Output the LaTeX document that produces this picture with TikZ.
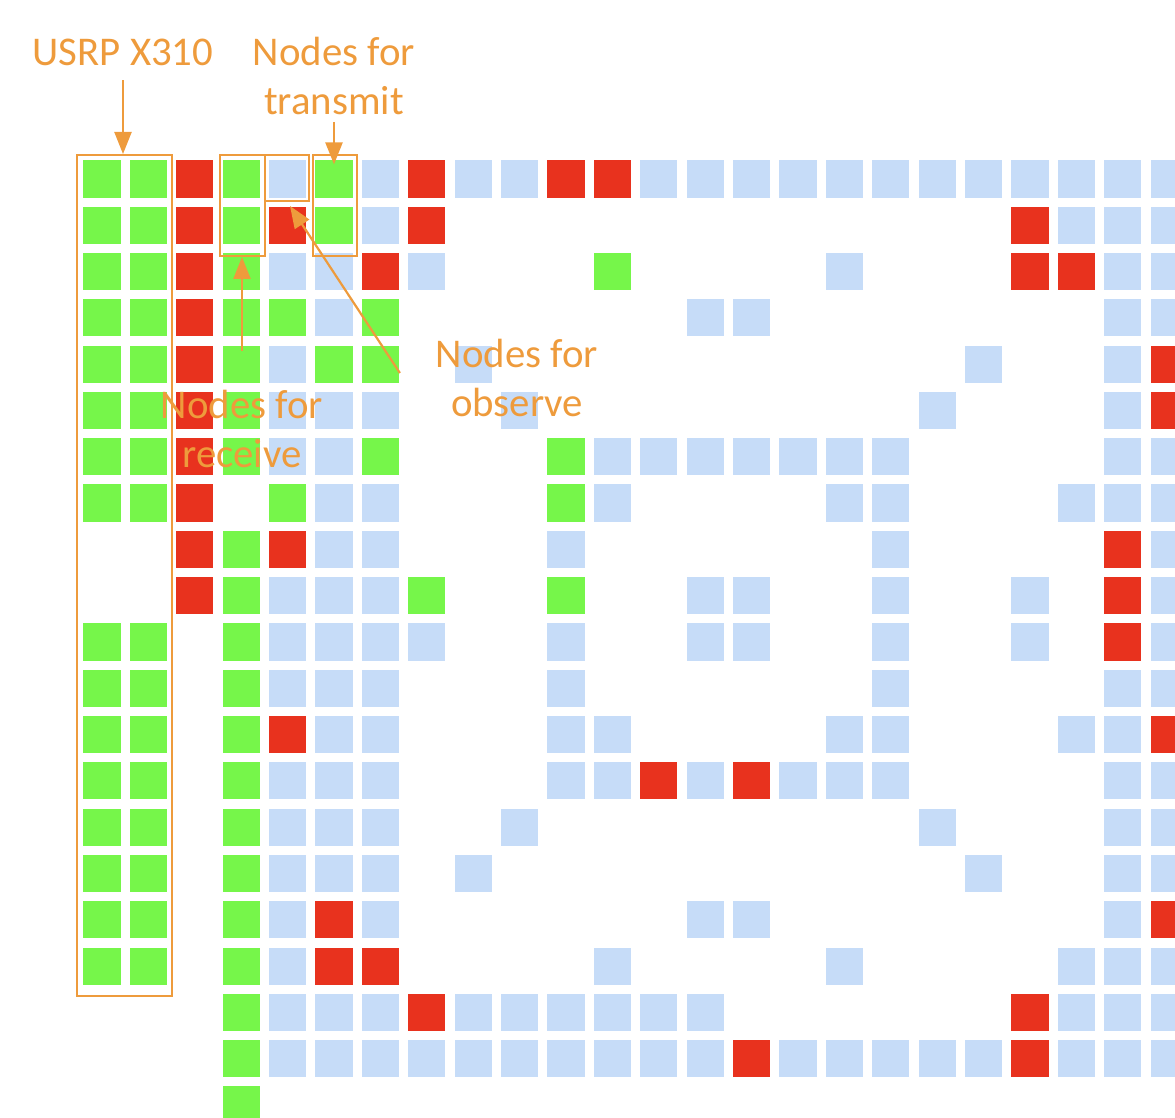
\documentclass[tikz,border=0pt]{standalone}
\usepackage{fontspec}
\setmainfont{Carlito}
\usetikzlibrary{arrows.meta,fit}
\definecolor{colg}{RGB}{118,246,74}
\definecolor{colr}{RGB}{232,50,30}
\definecolor{colb}{RGB}{198,220,248}
\definecolor{colo}{RGB}{255,255,255}
\definecolor{orng}{RGB}{238,155,60}

\begin{document}
\begin{tikzpicture}[x=0.5pt, y=-0.5pt,
  cell/.style = {minimum size=18.6pt, inner sep=0, outer sep=0, fill=col#1},
  hlbox/.style = {draw=orng, line width=1pt, inner sep=0},
  lbl/.style = {text=orng, align=center, font=\fontsize{20.4}{24.5}\selectfont},
  arr/.style = {draw=orng, line width=1.1pt, -{Triangle[length=11pt,width=8.5pt]}}]

  \useasboundingbox (0,0) rectangle (1175,1118);
  \clip (0,0) rectangle (1175,1118);

  % g = green, r = red, b = blue, o = empty
  \foreach \row [count=\j] in {
    {g,g,r,g,b,g,b,r,b,b,r,r,b,b,b,b,b,b,b,b,b,b,b,b},
    {g,g,r,g,r,g,b,r,o,o,o,o,o,o,o,o,o,o,o,o,r,b,b,b},
    {g,g,r,g,b,b,r,b,o,o,o,g,o,o,o,o,b,o,o,o,r,r,b,b},
    {g,g,r,g,g,b,g,o,o,o,o,o,o,b,b,o,o,o,o,o,o,o,b,b},
    {g,g,r,g,b,g,g,o,b,o,o,o,o,o,o,o,o,o,o,b,o,o,b,r},
    {g,g,r,g,b,b,b,o,o,b,o,o,o,o,o,o,o,o,b,o,o,o,b,r},
    {g,g,r,g,b,b,g,o,o,o,g,b,b,b,b,b,b,b,o,o,o,o,b,b},
    {g,g,r,o,g,b,b,o,o,o,g,b,o,o,o,o,b,b,o,o,o,b,b,b},
    {o,o,r,g,r,b,b,o,o,o,b,o,o,o,o,o,o,b,o,o,o,o,r,b},
    {o,o,r,g,b,b,b,g,o,o,g,o,o,b,b,o,o,b,o,o,b,o,r,b},
    {g,g,o,g,b,b,b,b,o,o,b,o,o,b,b,o,o,b,o,o,b,o,r,b},
    {g,g,o,g,b,b,b,o,o,o,b,o,o,o,o,o,o,b,o,o,o,o,b,b},
    {g,g,o,g,r,b,b,o,o,o,b,b,o,o,o,o,b,b,o,o,o,b,b,r},
    {g,g,o,g,b,b,b,o,o,o,b,b,r,b,r,b,b,b,o,o,o,o,b,b},
    {g,g,o,g,b,b,b,o,o,b,o,o,o,o,o,o,o,o,b,o,o,o,b,b},
    {g,g,o,g,b,b,b,o,b,o,o,o,o,o,o,o,o,o,o,b,o,o,b,b},
    {g,g,o,g,b,r,b,o,o,o,o,o,o,b,b,o,o,o,o,o,o,o,b,r},
    {g,g,o,g,b,r,r,o,o,o,o,b,o,o,o,o,b,o,o,o,o,b,b,b},
    {o,o,o,g,b,b,b,r,b,b,b,b,b,b,o,o,o,o,o,o,r,b,b,b},
    {o,o,o,g,b,b,b,b,b,b,b,b,b,b,r,b,b,b,b,b,r,b,b,b},
    {o,o,o,g}}{
    \foreach \c [count=\i] in \row {
      \node[cell=\c] (n-\j-\i) at ({102+46.4*(\i-1)}, {179+46.3*(\j-1)}) {};
    }
  }

  \node[hlbox, fit={(77,155) (172,996)}] (usrpbox) {};
  \node[hlbox, fit={(220,155) (265,256)}] (rxbox) {};
  \node[hlbox, fit={(265,155) (309,201)}] (obsbox) {};
  \node[hlbox, fit={(313,155) (357,256)}] (txbox) {};

  \node[lbl] (usrp) at (123,52) {USRP X310};
  \node[lbl] (tx) at (334,76) {Nodes for\\transmit};
  \node[lbl] (rx) at (242,429) {Nodes for\\receive};
  \node[lbl] (obs) at (517,378) {Nodes for\\observe};

  \draw[arr, shorten <=4pt] (usrp.south) -- (usrp.south |- usrpbox.north);
  \draw[arr, shorten >=-2pt] (tx.south) -- (tx.south |- n-1-6.north);
  \draw[arr, shorten <=16pt] (rx.north) -- (rx.north |- rxbox.south);
  \draw[arr] ([shift={(-29,-5)}]obs.west) -- ([shift={(3,4)}]obsbox.south);
\end{tikzpicture}
\end{document}
